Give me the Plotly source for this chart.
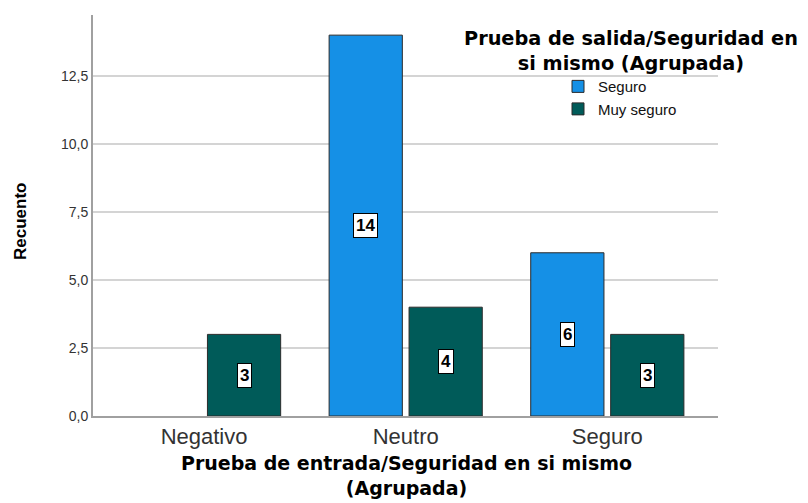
import plotly.graph_objects as go

categories = ["Negativo", "Neutro", "Seguro"]
series_names = ["Seguro", "Muy seguro"]
seguro_vals = [None, 14, 6]
muy_seguro_vals = [3, 4, 3]
y_tickvals = [0, 2.5, 5, 7.5, 10, 12.5]

colors = {"Seguro": "#1590e6", "Muy seguro": "#005b59"}
ARIAL = "Arial, Liberation Sans, sans-serif"
WIDE = "DejaVu Sans, Verdana, sans-serif"

# plot area in screenshot pixels (page body has an 8px margin)
L, T, R, B = 93, 15, 718, 416
W, H = 808, 503
PW, PH = R - L, B - T


def px(x):
    return (x - L) / PW


def py(y):
    return (B - y) / PH


fig = go.Figure()
for name, vals in zip(series_names, [seguro_vals, muy_seguro_vals]):
    fig.add_trace(go.Bar(
        x=categories, y=vals, name=name,
        marker=dict(color=colors[name], line=dict(color="#2b2b2b", width=1)),
    ))

# value labels: boxed, centred at half bar height
offsets = {"Seguro": -40, "Muy seguro": 40}
for name, vals in zip(series_names, [seguro_vals, muy_seguro_vals]):
    for cat, v in zip(categories, vals):
        if v:
            fig.add_annotation(
                x=cat, y=v / 2, xref="x", yref="y", text=f"<b>{v}</b>",
                showarrow=False, xshift=offsets[name],
                font=dict(family=ARIAL, size=17, color="black"),
                bgcolor="white", bordercolor="black", borderwidth=1, borderpad=2,
            )

def text_at(x, y, text, size, family=WIDE, angle=0):
    fig.add_annotation(x=px(x), y=py(y), xref="paper", yref="paper", text=text,
                       showarrow=False, xanchor="center", yanchor="middle",
                       borderpad=0, textangle=angle,
                       font=dict(family=family, size=size, color="black"))

# legend title
text_at(631, 51, "<b>Prueba de salida/Seguridad en<br>si mismo (Agrupada)</b>", 19.3)
# x axis title
text_at(406, 475, "<b>Prueba de entrada/Seguridad en si mismo<br>(Agrupada)</b>", 19)
# y axis title
text_at(21, 222, "<b>Recuento</b>", 17, family=ARIAL, angle=-90)

fig.update_layout(
    width=W, height=H,
    margin=dict(l=L - 8, r=W + 8 - R, t=T - 8, b=H + 8 - B),
    paper_bgcolor="white", plot_bgcolor="white",
    separators=",.",
    bargap=0.207, bargroupgap=0.084,
    font=dict(family=ARIAL, color="#222"),
    showlegend=True,
    legend=dict(x=0.744, y=0.8625, xanchor="left", yanchor="top",
                font=dict(family=ARIAL, size=15, color="#111"),
                bgcolor="rgba(0,0,0,0)", tracegroupgap=0, itemwidth=30),
    xaxis=dict(
        range=[-0.551, 2.549], automargin=False,
        showline=True, linecolor="#a0a0a0", linewidth=2,
        ticks="", tickfont=dict(family=ARIAL, size=22, color="#333"),
    ),
    yaxis=dict(
        range=[0, 14.74], tickvals=y_tickvals, tickformat=".1f", automargin=False,
        showline=True, linecolor="#a0a0a0", linewidth=2,
        showgrid=True, gridcolor="#d4d4d4", gridwidth=1.5,
        zeroline=False, ticks="",
        tickfont=dict(family=ARIAL, size=14, color="#333"),
    ),
)

fig.write_html("out.html")
